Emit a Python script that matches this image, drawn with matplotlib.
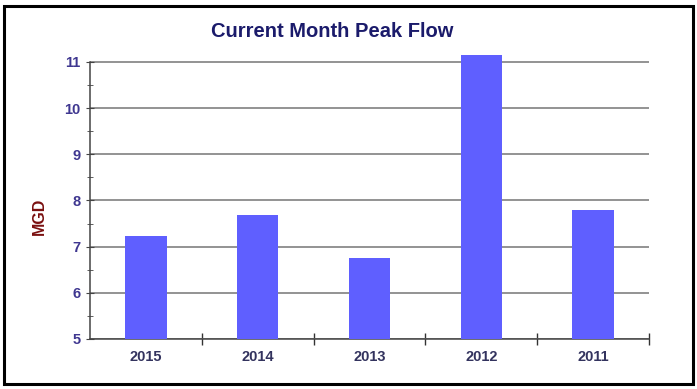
import matplotlib
matplotlib.use("Agg")
import matplotlib.pyplot as plt
from matplotlib.patches import Rectangle
from matplotlib.ticker import MultipleLocator

plt.rcParams["font.family"] = ["Liberation Sans", "DejaVu Sans"]

years = ["2015", "2014", "2013", "2012", "2011"]
peak_flow = [7.23, 7.68, 6.75, 11.15, 7.80]
y_ticks = [5, 6, 7, 8, 9, 10, 11]

fig = plt.figure(figsize=(6.97, 3.89), dpi=100)
fig.patches.append(Rectangle((0.006, 0.013), 0.988, 0.972, transform=fig.transFigure,
                             fill=False, edgecolor="black", linewidth=2.2))
ymin, ymax = 5, 11.3
px_unit = (339 - 62) / 6
top_px = 339 - (ymax - ymin) * px_unit
ax = fig.add_axes([90 / 697, 1 - 339 / 389, (649 - 90) / 697, (339 - top_px) / 389])
x = list(range(len(years)))
ax.bar(x, peak_flow, width=0.37, color="#5f5fff", zorder=3)

ax.set_xlim(-0.5, len(years) - 0.5)
ax.set_ylim(ymin, ymax)
ax.yaxis.set_minor_locator(MultipleLocator(0.5))
ax.grid(axis="y", which="major", color="#8a8a8a", linewidth=1.3, zorder=0)

ax.set_xticks(x)
ax.set_xticklabels(years, fontweight="bold")
ax.set_yticks(y_ticks)
ax.set_yticklabels([str(v) for v in y_ticks], fontweight="bold")
ax.set_xticks([i + 0.5 for i in range(len(years))], minor=True)
ax.tick_params(axis="x", which="major", length=0, pad=8, labelsize=10.5, labelcolor="#33335e")
ax.tick_params(axis="x", which="minor", length=8, direction="inout", color="#333333", width=1)
ax.tick_params(axis="y", which="major", length=6, direction="inout", pad=4, labelsize=10.5,
               labelcolor="#3f3790", color="#444444")
ax.tick_params(axis="y", which="minor", length=5, direction="inout", color="#444444")

for s in ["top", "right"]:
    ax.spines[s].set_visible(False)
ax.spines["left"].set_bounds(5, 11)
ax.spines["left"].set_color("#444444")
ax.spines["bottom"].set_color("#444444")
ax.spines["left"].set_linewidth(1.1)
ax.spines["bottom"].set_linewidth(1.1)

ax.set_ylabel("MGD", color="#7a1010", fontweight="bold", fontsize=11.5)
ax.yaxis.set_label_coords(-0.078, 0.422)
fig.text(0.476, 0.918, "Current Month Peak Flow", ha="center", va="center",
         fontsize=14.5, fontweight="bold", color="#1b1b6b")

fig.savefig("out.png", dpi=100)
